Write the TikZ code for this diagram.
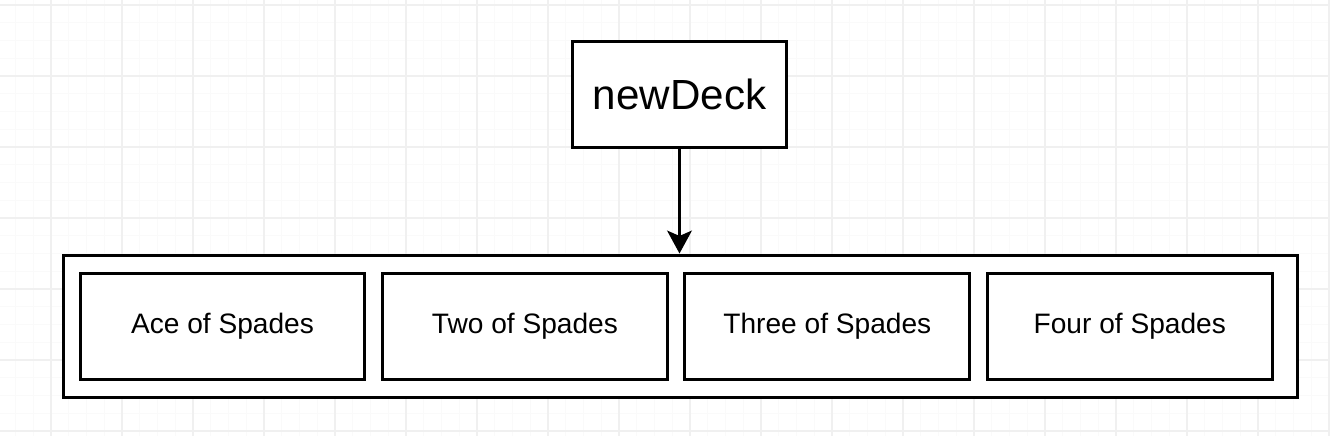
\documentclass[tikz,border=0pt]{standalone}
\usepackage{fontspec}
\setmainfont{Liberation Sans}
\usetikzlibrary{arrows.meta, backgrounds, positioning}
\definecolor{gridMajor}{RGB}{240,240,240}
\definecolor{gridMinor}{RGB}{250,250,250}

\begin{document}
\begin{tikzpicture}[
    x=0.02cm, y=-0.02cm,
    box/.style={draw, line width=1.7pt, fill=white, inner sep=0pt},
    card/.style={box, minimum width=5.7cm, minimum height=2.14cm,
                 font=\fontsize{16}{19}\selectfont},
    link/.style={line width=1.7pt, -{Stealth[length=13pt, width=14pt, inset=3pt]}},
  ]

  \useasboundingbox (0,0) rectangle (1330,436);

  % ---- grid paper behind everything -----------------------------------
  \begin{scope}[on background layer]
    \foreach \x in {15.5,33.25,...,1330}
      \draw[gridMinor, line width=0.5pt] (\x,0) -- (\x,436);
    \foreach \y in {5,22.75,...,436}
      \draw[gridMinor, line width=0.5pt] (0,\y) -- (1330,\y);
    \foreach \x in {51,122,...,1330}
      \draw[gridMajor, line width=0.6pt] (\x,0) -- (\x,436);
    \foreach \y in {5,76,...,436}
      \draw[gridMajor, line width=0.6pt] (0,\y) -- (1330,\y);
  \end{scope}

  % ---- the function -----------------------------------------------------
  \node[box, minimum width=4.3cm, minimum height=2.14cm,
        font=\fontsize{24}{28}\selectfont] (newdeck) at (679.5,94.5) {newDeck};

  % ---- the slice it returns ---------------------------------------------
  \node[box, minimum width=24.7cm, minimum height=2.86cm] (cards) at (680.5,326.5) {};

  \node[card] (ace) at (222.5,326.5)      {Ace of Spades};
  \node[card, right=0.29cm of ace] (two)   {Two of Spades};
  \node[card, right=0.29cm of two] (three) {Three of Spades};
  \node[card, right=0.29cm of three] (four) {Four of Spades};

  \draw[link] (newdeck) -- (cards.north -| newdeck);

\end{tikzpicture}
\end{document}
